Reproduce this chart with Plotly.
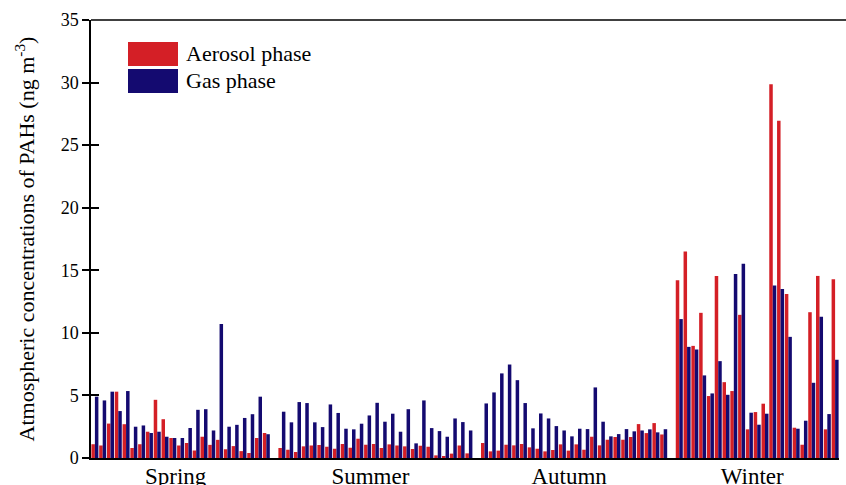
import plotly.graph_objects as go

seasons = ["Spring", "Summer", "Autumn", "Winter"]

spring_aerosol = [1.1, 1.0, 2.75, 5.3, 2.7, 0.8, 1.1, 2.1, 4.65, 3.1, 1.6, 1.0, 1.2, 0.6, 1.7, 1.05, 1.45, 0.7, 0.95, 0.55, 0.4, 1.6, 2.0]
spring_gas = [4.9, 4.6, 5.3, 3.75, 5.35, 2.5, 2.6, 2.0, 2.1, 1.7, 1.6, 1.6, 2.4, 3.85, 3.9, 2.2, 10.7, 2.5, 2.65, 3.2, 3.5, 4.9, 1.9]

summer_aerosol = [0.8, 0.66, 0.48, 0.93, 1.0, 1.04, 0.9, 0.74, 1.12, 0.82, 1.54, 1.06, 1.12, 0.8, 1.09, 1.0, 0.93, 0.72, 0.98, 0.9, 0.21, 0.16, 0.35, 1.0, 0.37]
summer_gas = [3.7, 2.85, 4.47, 4.39, 2.85, 2.47, 4.28, 3.6, 2.34, 2.29, 2.74, 3.4, 4.41, 2.9, 3.54, 2.1, 3.9, 1.17, 4.6, 2.39, 2.15, 1.7, 3.16, 2.87, 2.2]

autumn_aerosol = [1.2, 0.53, 0.59, 1.06, 1.01, 1.12, 0.85, 0.74, 0.53, 0.64, 1.09, 0.59, 1.09, 0.66, 1.7, 1.01, 1.46, 1.68, 1.46, 1.68, 2.71, 1.99, 2.79, 1.88]
autumn_gas = [4.36, 5.24, 6.76, 7.47, 6.22, 4.39, 2.37, 3.56, 3.16, 2.55, 2.2, 1.73, 2.34, 2.31, 5.64, 2.9, 1.73, 1.91, 2.31, 2.13, 2.2, 2.29, 2.05, 2.3]

winter_aerosol = [14.2, 16.5, 8.96, 11.6, 4.95, 14.55, 6.06, 5.35, 11.44, 2.29, 3.67, 4.34, 29.87, 26.94, 13.11, 2.42, 1.06, 11.65, 14.55, 2.29, 14.28]
winter_gas = [11.1, 8.88, 8.67, 6.6, 5.16, 7.74, 5.05, 14.7, 15.53, 3.62, 2.66, 3.54, 13.78, 13.51, 9.68, 2.34, 2.98, 6.01, 11.28, 3.51, 7.85]

aerosol_by_season = [spring_aerosol, summer_aerosol, autumn_aerosol, winter_aerosol]
gas_by_season = [spring_gas, summer_gas, autumn_gas, winter_gas]

RED = "#d41f26"
BLUE = "#140a70"
FONT = "Liberation Serif, Times New Roman, serif"

# sample positions: consecutive samples, one empty slot between seasons
x_all, aer_all, gas_all, centers = [], [], [], []
pos = 0
for aer, gas in zip(aerosol_by_season, gas_by_season):
    n = len(aer)
    xs = list(range(pos, pos + n))
    x_all += xs
    aer_all += aer
    gas_all += gas
    centers.append(sum(xs) / n)
    pos += n + 1

fig = go.Figure()
fig.add_trace(go.Bar(x=x_all, y=aer_all, name="Aerosol phase", marker_color=RED, marker_line_width=0))
fig.add_trace(go.Bar(x=x_all, y=gas_all, name="Gas phase", marker_color=BLUE, marker_line_width=0))
fig.add_trace(go.Scatter(x=[0], y=[0], yaxis="y2", mode="markers", marker=dict(opacity=0),
                         showlegend=False, hoverinfo="skip"))

W, H = 846, 485
ML, MR, MT, MB = 91, 7, 20, 27
PW, PH = W - ML - MR, H - MT - MB

def px_x(p):
    return (p - ML) / PW

def px_y(p):
    return 1 - (p - MT) / PH

shapes = [
    dict(type="line", xref="paper", yref="paper", x0=0, x1=px_x(W), y0=1, y1=1,
         line=dict(color="black", width=1.5)),
]
annotations = []
legend_items = [("Aerosol phase", RED, 42, 66), ("Gas phase", BLUE, 69, 93)]
for name, col, y0, y1 in legend_items:
    shapes.append(dict(type="rect", xref="paper", yref="paper",
                       x0=px_x(128), x1=px_x(178), y0=px_y(y1), y1=px_y(y0),
                       fillcolor=col, line=dict(width=0)))
    annotations.append(dict(xref="paper", yref="paper", x=px_x(184), y=px_y((y0 + y1) / 2),
                            text=name, showarrow=False, xanchor="left", yanchor="middle",
                            font=dict(family=FONT, size=22, color="black")))

fig.update_layout(
    width=W, height=H,
    margin=dict(l=ML, r=MR, t=MT, b=MB, autoexpand=False),
    paper_bgcolor="white", plot_bgcolor="white",
    barmode="group", bargap=0.1, bargroupgap=0,
    showlegend=False,
    font=dict(family=FONT, color="black"),
    shapes=shapes, annotations=annotations,
    xaxis=dict(range=[-0.5, pos - 1 - 0.5], tickvals=centers, ticktext=seasons,
               ticks="", ticklabelstandoff=-3,
               showline=True, linecolor="black", linewidth=1.5, automargin=False,
               showgrid=False, zeroline=False, ticklabelshift=-5,
               tickfont=dict(family=FONT, size=23, color="black")),
    yaxis=dict(range=[0, 35], dtick=5, ticks="outside", ticklen=7, tickwidth=1.5,
               tickcolor="black", showline=True, linecolor="black", linewidth=1.5,
               showgrid=False, zeroline=False, automargin=False,
               tickfont=dict(family=FONT, size=18, color="black"),
               title=dict(text="Atmospheric concentrations of PAHs (ng m<sup>-3</sup>)",
                          font=dict(family=FONT, size=22, color="black"), standoff=20)),
    yaxis2=dict(overlaying="y", side="left", anchor="x", range=[0, 35], dtick=5,
                ticks="inside", ticklen=8, tickwidth=1.5, tickcolor="black", automargin=False,
                showticklabels=False, showline=False, showgrid=False, zeroline=False),
)

fig.write_html("out.html")
